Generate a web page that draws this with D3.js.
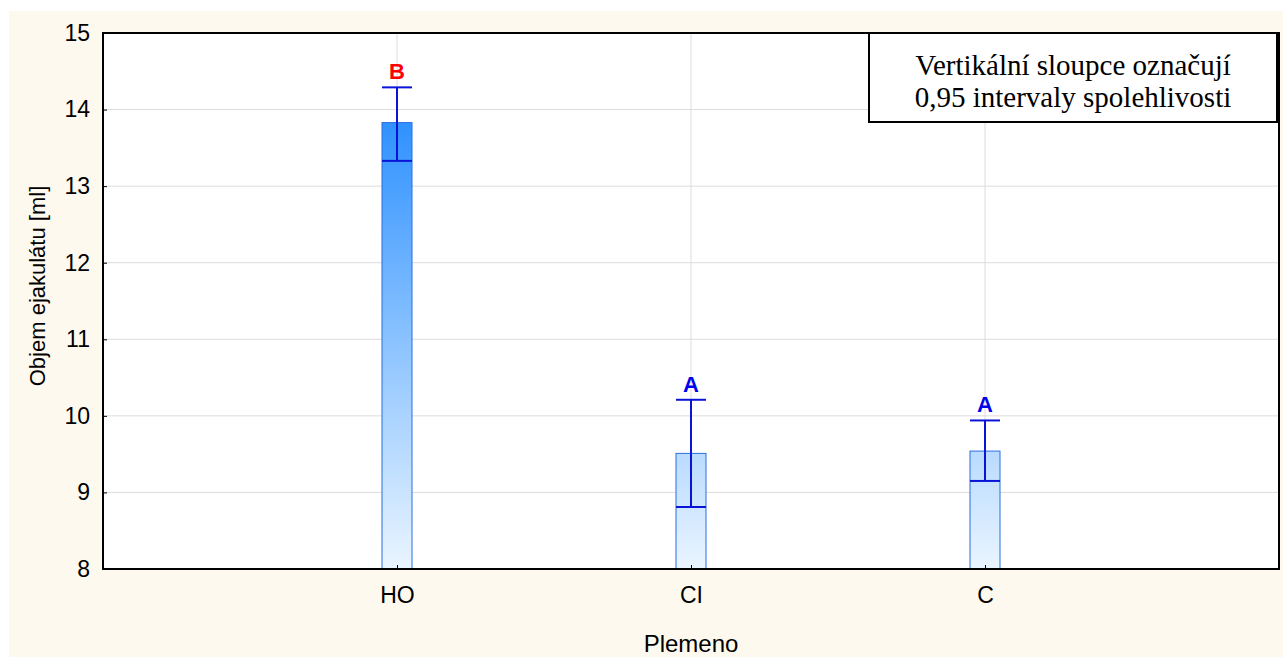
<!DOCTYPE html>
<html><head><meta charset="utf-8">
<script src="https://cdn.jsdelivr.net/npm/d3@7"></script>
<style>body{margin:0;background:#fff;} svg{display:block;}</style>
</head><body>
<svg id="c" width="1283" height="657"></svg>
<script>
const categories = ["HO", "CI", "C"];
const means = [13.83, 9.51, 9.54];
const ciLower = [13.33, 8.81, 9.15];
const ciUpper = [14.29, 10.21, 9.94];
const groupLetters = ["B", "A", "A"];
const letterColors = ["#FF0000", "#0000EE", "#0000EE"];
const yTicks = [8, 9, 10, 11, 12, 13, 14, 15];
const legendLines = ["Vertikální sloupce označují", "0,95 intervaly spolehlivosti"];
const yTitle = "Objem ejakulátu [ml]";
const xTitle = "Plemeno";

const svg = d3.select("#c");
const W = 1283, H = 657;
const m = {left: 103, top: 33, right: 1279, bottom: 569};
const sans = "Liberation Sans, Arial, sans-serif";

svg.append("rect").attr("x", 9).attr("y", 11).attr("width", W - 9).attr("height", H - 11).attr("fill", "#FEF9EF");
svg.append("rect").attr("x", m.left).attr("y", m.top).attr("width", m.right - m.left).attr("height", m.bottom - m.top).attr("fill", "#fff");

const y = d3.scaleLinear().domain([8, 15]).range([m.bottom, m.top]);
const x = d3.scalePoint().domain(categories).range([m.left, m.right]).padding(1);

const defs = svg.append("defs");
const g = defs.append("linearGradient").attr("id", "grad").attr("gradientUnits", "userSpaceOnUse")
  .attr("x1", 0).attr("x2", 0).attr("y1", y(8)).attr("y2", y(14));
g.append("stop").attr("offset", 0).attr("stop-color", "#EAF5FF");
g.append("stop").attr("offset", 1).attr("stop-color", "#2A8FFF");

// grid
svg.append("g").selectAll("line").data(yTicks.slice(1, -1)).join("line")
  .attr("x1", m.left).attr("x2", m.right).attr("y1", d => y(d)).attr("y2", d => y(d))
  .attr("stroke", "#DCDCDC").attr("stroke-width", 1);
svg.append("g").selectAll("line").data(categories).join("line")
  .attr("x1", d => x(d)).attr("x2", d => x(d)).attr("y1", m.top).attr("y2", m.bottom)
  .attr("stroke", "#DCDCDC").attr("stroke-width", 1);

// bars
const bw = 30;
svg.append("g").selectAll("rect").data(categories).join("rect")
  .attr("x", d => x(d) - bw / 2).attr("width", bw)
  .attr("y", (d, i) => y(means[i])).attr("height", (d, i) => y(8) - y(means[i]))
  .attr("fill", "url(#grad)").attr("stroke", "#2A6FE0").attr("stroke-width", 1);

// error bars
const eb = svg.append("g").attr("stroke", "#0A14D8").attr("stroke-width", 2);
categories.forEach((c, i) => {
  eb.append("line").attr("x1", x(c)).attr("x2", x(c)).attr("y1", y(ciUpper[i])).attr("y2", y(ciLower[i]));
  eb.append("line").attr("x1", x(c) - bw / 2).attr("x2", x(c) + bw / 2).attr("y1", y(ciUpper[i])).attr("y2", y(ciUpper[i]));
  eb.append("line").attr("x1", x(c) - bw / 2).attr("x2", x(c) + bw / 2).attr("y1", y(ciLower[i])).attr("y2", y(ciLower[i]));
});

// letters
svg.append("g").selectAll("text").data(categories).join("text")
  .attr("x", d => x(d)).attr("y", (d, i) => y(ciUpper[i]) - 8)
  .attr("text-anchor", "middle").attr("font-family", sans)
  .attr("font-weight", "bold").attr("font-size", 22)
  .attr("fill", (d, i) => letterColors[i]).text((d, i) => groupLetters[i]);

// axes
const yAxis = d3.axisLeft(y).tickValues(yTicks).tickFormat(d3.format("d")).tickSizeInner(-4).tickSizeOuter(0).tickPadding(13);
const ya = svg.append("g").attr("transform", `translate(${m.left},0)`).call(yAxis);
ya.select(".domain").remove();
ya.selectAll("line").attr("stroke", "#000");
ya.selectAll("text").attr("font-family", sans).attr("font-size", 23).attr("fill", "#000");

const xAxis = d3.axisBottom(x).tickSizeInner(-4).tickSizeOuter(0).tickPadding(18);
const xa = svg.append("g").attr("transform", `translate(0,${m.bottom})`).call(xAxis);
xa.select(".domain").remove();
xa.selectAll("line").attr("stroke", "#000");
xa.selectAll("text").attr("font-family", sans).attr("font-size", 23).attr("fill", "#000");

// frame
svg.append("rect").attr("x", m.left).attr("y", m.top).attr("width", m.right - m.left).attr("height", m.bottom - m.top)
  .attr("fill", "none").attr("stroke", "#000").attr("stroke-width", 2);

// titles
svg.append("text").attr("x", 691).attr("y", 652).attr("text-anchor", "middle")
  .attr("font-family", sans).attr("font-size", 24).text(xTitle);
svg.append("text").attr("transform", `translate(45,286) rotate(-90)`).attr("text-anchor", "middle")
  .attr("font-family", sans).attr("font-size", 22).text(yTitle);

// legend
const lg = svg.append("g");
lg.append("rect").attr("x", 869).attr("y", 33).attr("width", 408).attr("height", 89)
  .attr("fill", "#fff").attr("stroke", "#000").attr("stroke-width", 2);
lg.selectAll("text").data(legendLines).join("text")
  .attr("x", 1073).attr("y", (d, i) => 75 + i * 32).attr("text-anchor", "middle")
  .attr("font-family", "Liberation Serif, Times New Roman, serif").attr("font-size", 29).text(d => d);
</script>
</body></html>
